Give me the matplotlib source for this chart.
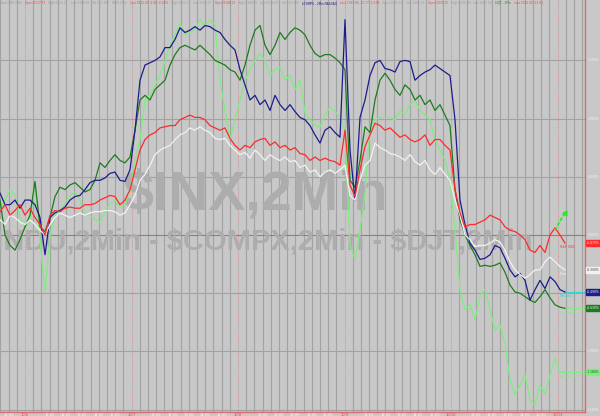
import numpy as np
import matplotlib
matplotlib.use("Agg")
import matplotlib.pyplot as plt

# % change from prior close, one reading about every 18 minutes (2Min bars)
spx = [0.20, 0.26, 0.17, 0.21, 0.26, 0.17, 0.23, 0.15, 0.09, 0.00,
       0.17, 0.21, 0.20, 0.23, 0.24, 0.23, 0.23, 0.26, 0.26, 0.27,
       0.30, 0.32, 0.34, 0.33, 0.26, 0.30, 0.39, 0.56, 0.73, 0.82,
       0.86, 0.88, 0.92, 0.93, 0.94, 0.94, 0.99, 1.01, 1.03, 1.01,
       1.01, 0.99, 0.94, 0.92, 0.90, 0.92, 0.83, 0.77, 0.73, 0.77,
       0.75, 0.80, 0.82, 0.83, 0.77, 0.80, 0.75, 0.77, 0.73, 0.75,
       0.70, 0.69, 0.64, 0.67, 0.64, 0.66, 0.64, 0.63, 0.60, 0.90,
       0.43, 0.33, 0.56, 0.76, 0.86, 0.96, 0.94, 0.90, 0.92, 0.88,
       0.84, 0.86, 0.82, 0.80, 0.82, 0.86, 0.77, 0.82, 0.82, 0.77,
       0.73, 0.39, 0.19, 0.07, 0.09, 0.09, 0.11, 0.13, 0.17, 0.15,
       0.13, 0.07, 0.04, 0.03, 0.00, -0.04, -0.13, -0.15, -0.09, -0.15,
       0.00, 0.06, 0.00, -0.07]
indu = [0.13, 0.09, 0.17, 0.15, 0.11, 0.09, 0.13, 0.09, 0.04, 0.00,
        0.09, 0.15, 0.19, 0.17, 0.15, 0.17, 0.19, 0.17, 0.19, 0.20,
        0.20, 0.21, 0.21, 0.20, 0.17, 0.19, 0.26, 0.34, 0.47, 0.52,
        0.60, 0.69, 0.73, 0.75, 0.77, 0.82, 0.86, 0.88, 0.92, 0.90,
        0.93, 0.90, 0.88, 0.83, 0.82, 0.83, 0.77, 0.73, 0.69, 0.71,
        0.66, 0.73, 0.69, 0.64, 0.69, 0.66, 0.64, 0.67, 0.63, 0.64,
        0.58, 0.60, 0.54, 0.56, 0.50, 0.54, 0.56, 0.53, 0.56, 0.60,
        0.34, 0.30, 0.47, 0.60, 0.64, 0.79, 0.75, 0.73, 0.70, 0.69,
        0.67, 0.64, 0.69, 0.63, 0.60, 0.64, 0.56, 0.52, 0.58, 0.52,
        0.47, 0.30, 0.17, 0.00, -0.04, -0.10, -0.09, -0.09, -0.07, -0.04,
        -0.06, -0.13, -0.23, -0.30, -0.34, -0.37, -0.34, -0.30, -0.30, -0.23,
        -0.19, -0.23, -0.27, -0.30]
compx = [0.36, 0.26, 0.26, 0.30, 0.23, 0.30, 0.30, 0.26, 0.15, -0.17,
         0.15, 0.19, 0.21, 0.24, 0.30, 0.33, 0.34, 0.39, 0.45, 0.47,
         0.47, 0.49, 0.53, 0.54, 0.47, 0.46, 0.56, 0.90, 1.33, 1.46,
         1.48, 1.50, 1.53, 1.61, 1.61, 1.68, 1.78, 1.74, 1.76, 1.79,
         1.76, 1.80, 1.79, 1.76, 1.74, 1.68, 1.63, 1.59, 1.42, 1.29,
         1.16, 1.20, 1.12, 1.16, 1.07, 1.20, 1.12, 1.07, 1.12, 1.06,
         1.01, 0.99, 0.94, 0.86, 0.79, 0.90, 0.93, 0.88, 0.84, 1.85,
         0.73, 0.30, 1.01, 1.16, 1.37, 1.48, 1.50, 1.43, 1.42, 1.40,
         1.49, 1.50, 1.49, 1.33, 1.37, 1.40, 1.42, 1.46, 1.43, 1.40,
         1.37, 0.99, 0.30, 0.09, -0.07, -0.13, -0.21, -0.20, -0.17, -0.09,
         -0.11, -0.20, -0.30, -0.36, -0.33, -0.39, -0.56, -0.47, -0.39, -0.46,
         -0.36, -0.40, -0.47, -0.49]
djt = [0.30, 0.00, -0.09, -0.13, -0.04, 0.07, 0.17, 0.46, 0.07, 0.03,
       0.15, 0.33, 0.41, 0.39, 0.43, 0.45, 0.41, 0.37, 0.39, 0.47,
       0.62, 0.58, 0.64, 0.69, 0.64, 0.62, 0.67, 0.90, 1.16, 1.20,
       1.16, 1.25, 1.29, 1.33, 1.46, 1.55, 1.61, 1.63, 1.61, 1.59,
       1.63, 1.59, 1.55, 1.50, 1.48, 1.46, 1.42, 1.40, 1.33, 1.46,
       1.63, 1.76, 1.80, 1.63, 1.55, 1.63, 1.74, 1.68, 1.74, 1.78,
       1.76, 1.72, 1.63, 1.56, 1.53, 1.55, 1.55, 1.52, 1.48, 1.42,
       0.47, 0.41, 0.64, 0.93, 0.88, 1.16, 1.33, 1.39, 1.33, 1.25,
       1.20, 1.29, 1.25, 1.16, 1.20, 1.12, 1.16, 1.07, 1.12, 1.03,
       0.94, 0.39, 0.13, 0.00, -0.09, -0.17, -0.27, -0.26, -0.27, -0.26,
       -0.24, -0.32, -0.43, -0.49, -0.50, -0.53, -0.56, -0.58, -0.53, -0.47,
       -0.54, -0.60, -0.62, -0.63]
rut = [0.21, 0.30, 0.39, 0.34, 0.15, 0.07, 0.11, 0.43, -0.04, -0.49,
       0.00, 0.17, 0.21, 0.27, 0.34, 0.37, 0.30, 0.17, 0.17, 0.13,
       0.11, 0.20, 0.27, 0.30, 0.24, 0.26, 0.39, 0.64, 0.82, 1.16,
       1.20, 1.29, 1.37, 1.49, 1.63, 1.72, 1.82, 1.72, 1.74, 1.76,
       1.85, 1.80, 1.85, 1.80, 1.33, 1.07, 0.82, 0.99, 1.16, 1.33,
       1.42, 1.50, 1.56, 1.50, 1.37, 1.42, 1.44, 1.33, 1.37, 1.25,
       1.33, 1.05, 0.99, 0.94, 0.93, 1.03, 1.10, 1.06, 1.01, 0.90,
       -0.09, -0.21, 0.04, 0.36, 0.93, 0.99, 1.01, 1.01, 1.01, 0.99,
       1.07, 1.03, 1.12, 1.16, 1.07, 1.03, 0.99, 0.82, 0.73, 0.64,
       0.47, 0.04, -0.47, -0.64, -0.60, -0.73, -0.52, -0.47, -0.64, -0.82,
       -0.77, -0.94, -1.24, -1.37, -1.29, -1.20, -1.42, -1.46, -1.29, -1.37,
       -1.20, -1.06, -1.18, -1.18]
# short indicator at the right end
trend = [0.04, 0.12, 0.19]

names = ["S&P 500", "Dow", "Nasdaq", "Transports", "Russell 2000"]
colors = ["#ff2a2a", "#f2f2f2", "#1c1c8a", "#1f7a1f", "#80ec80"]
end_text_colors = ["#ff3030", "#f2f2f2", "#30d8d8", "#80ec80", "#80ec80"]
box_text_colors = ["white", "#333333", "white", "white", "#1a5a1a"]

y_ticks = [-1.5, -1.0, -0.5, 0.0, 0.5, 1.0, 1.5]
hour_labels = ["11:00", "12:00", "13:00", "14:00", "15:00"]
date_labels = ["10/6", "10/7", "10/8", "10/9", "10/10", "10/13"]

header = [("Auto MKT 2Min", "#9a9a9a"), ("Open 9177.73", "#ff4040"),
          ("High 9222.72", "#9a9a9a"), ("Low 9168.69", "#9a9a9a"),
          ("Vol 532,382", "#9a9a9a"), ("INDU 2Min", "#9a9a9a"),
          ("Last 9222.00 -4.96 -0.04%", "#ff4040"), ("High 9222.00", "#9a9a9a"),
          ("Low 9168.00", "#9a9a9a"), ("Open 9188.00", "#ff4040"),
          ("High 9198.00", "#9a9a9a"), ("Low 9122.00", "#9a9a9a"),
          ("Vol 532,382", "#9a9a9a"), ("$COMPX - 2Min NASDAQ", "#1c1c8a"),
          ("Last 2093.96 -12.77 -1.53%", "#ff4040"), ("Open 2071.12", "#9a9a9a"),
          ("Low 2066.30", "#9a9a9a"), ("Open 1035.75", "#ff4040"),
          ("High 1036.00", "#9a9a9a"), ("Low 1027.00", "#9a9a9a"),
          ("$DJT - 2Min", "#2a8a2a"), ("Last 2186.89 -23.01", "#ff4040")]

BG = "#c8c8c8"
GRID = "#a2a2a2"
AXIS_RED = "#e06a6a"

fig = plt.figure(figsize=(6, 4.16), dpi=100)
fig.patch.set_facecolor(BG)
W, H = 585.0, 412.0
ax = fig.add_axes([0, 4 / 416, W / 600, H / 416])
ax.set_facecolor(BG)

n = len(spx)
x = np.arange(n)
ax.set_xlim(0, W / 5)
ax.set_ylim(-1.521, 2.019)

# half-hour grid, day separators
day0, day_len = 5.0, 21.3
step = day_len / 13
k = -3
while True:
    gx = day0 + k * step
    if gx > W / 5:
        break
    if k % 13 == 0:
        ax.axvline(gx, color="#c89a9a", lw=0.8, ls=(0, (1, 1)), zorder=1)
    else:
        ax.axvline(gx, color=GRID, lw=0.8, zorder=1)
    k += 1
for v in y_ticks:
    ax.axhline(v, color="#b07070" if v == 0 else GRID, lw=0.8, zorder=1)

# watermark (runs off the left edge, as in the original)
wm = dict(transform=ax.transAxes, fontfamily="Liberation Sans", fontweight="bold",
          color="#adadad", zorder=1.5, clip_on=True)
ax.text(255 / W, 1 - 210 / H, "$INX,2Min", fontsize=40, ha="center", va="baseline", **wm)
ax.text(-21 / W, 1 - 250 / H, "$INDU,2Min - $COMPX,2Min - $DJT,2Min", fontsize=21,
        ha="left", va="baseline", **wm)

series = [rut, djt, compx, indu, spx]
order = [4, 3, 2, 1, 0]
for s, i in zip(series, order):
    ax.plot(x, s, color=colors[i], lw=0.9, zorder=3)
ax.plot(x[-3:], trend, color="#22ee22", lw=1.3, ls=(0, (2, 1)), zorder=4)
ax.plot(x[-1], trend[-1], marker=(3, 0, -30), color="#22ee22", ms=4, zorder=4)

# last value: end text, short line to the axis, and box on the right
last = [spx[-1], indu[-1], compx[-1], djt[-1], rut[-1]]
ytr = ax.get_yaxis_transform()
for i, v in enumerate(last):
    if i >= 2:
        ax.plot([x[-1], W / 5], [v, v], color=end_text_colors[i], lw=0.8, zorder=2)
    ax.text(x[-1] - 1.0, v - 0.02, names[i], fontsize=2.4, color=end_text_colors[i],
            va="top", ha="left", zorder=5)
    ax.text(1.003, v, f"{v:.3f}%", transform=ytr, fontsize=2.2, color=box_text_colors[i],
            va="center", ha="left", clip_on=False,
            bbox=dict(boxstyle="square,pad=0.3", fc=colors[i], ec=colors[i]))
for v in y_ticks:
    if v != -0.5:
        ax.text(1.004, v, f"{v:.3f}%", transform=ytr, fontsize=2.2, color="#f4f4f4",
                va="center", ha="left", clip_on=False)

# time labels under the axis
for d in range(-1, 6):
    start = day0 + d * day_len
    if d >= 0 and start < W / 5 + 1:
        ax.text(start, -1.53, date_labels[d], fontsize=2.6, color="#ff4040",
                ha="center", va="top", clip_on=False)
    for j, lab in zip([3, 5, 7, 9, 11], hour_labels):
        tx = start + j * step
        if 0 < tx < W / 5 - 1:
            ax.text(tx, -1.53, lab, fontsize=2.6, color="#f4f4f4",
                    ha="center", va="top", clip_on=False)

# header line, laid out left to right
fig.canvas.draw()
renderer = fig.canvas.get_renderer()
hx = 1.0
for t, c in header:
    txt = ax.text(hx / W, 0.997, t, transform=ax.transAxes, fontsize=2.1, color=c,
                  ha="left", va="top", zorder=6)
    hx += txt.get_window_extent(renderer).width + 3

for sp in ["top", "left"]:
    ax.spines[sp].set_visible(False)
for sp in ["right", "bottom"]:
    ax.spines[sp].set_color(AXIS_RED)
    ax.spines[sp].set_linewidth(1.0)
ax.set_xticks([])
ax.set_yticks([])

fig.savefig("out.png", dpi=100, facecolor=BG)
